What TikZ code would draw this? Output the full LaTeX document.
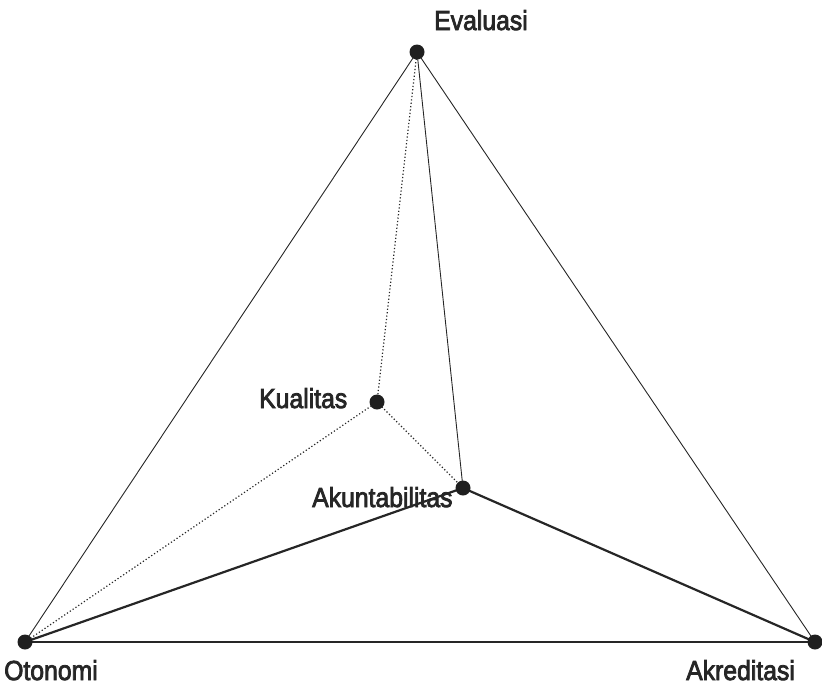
\documentclass[tikz,border=0pt]{standalone}
\usepackage{fontspec}
\usepackage{graphicx}
\setmainfont{Liberation Sans}
\newfontfamily\lblfont[FakeBold=3]{Liberation Sans}
\newcommand{\lbltext}[1]{\scalebox{0.9}[1]{#1}}
\begin{document}
\begin{tikzpicture}[x=1pt,y=-1pt,
  ink/.style={color=black!85},
  thinline/.style={ink, line width=0.9pt},
  dotline/.style={ink, line width=1.2pt, dash pattern=on 1.2pt off 2.2pt},
  thickline/.style={ink, line width=2.2pt},
  baseline2/.style={ink, line width=1.5pt},
  dot/.style={circle, fill=black!88, inner sep=0pt, minimum size=15pt},
  lbl/.style={anchor=base west, inner sep=0pt, text=black!85, font=\lblfont\fontsize{27.5}{30}\selectfont}]
\useasboundingbox (0,0) rectangle (822,689);
\coordinate (E) at (417,52);
\coordinate (K) at (377,402);
\coordinate (A) at (463,488);
\coordinate (O) at (25,642);
\coordinate (R) at (815,642);
% edges
\draw[thinline] (E) -- (O);
\draw[thinline] (E) -- (R);
\draw[thinline] (E) -- (A);
\draw[dotline] (E) -- (K);
\draw[dotline] (K) -- (O);
\draw[dotline] (K) -- (A);
\draw[thickline] (A) -- (O);
\draw[thickline] (A) -- (R);
\draw[baseline2] (O) -- (R);
% dots
\node[dot] (e) at (E) {};
\node[dot] (k) at (K) {};
\node[dot] (a) at (A) {};
\node[dot] (o) at (O) {};
\node[dot] (r) at (R) {};
% labels
\node[lbl] (le) at (434,30) {\lbltext{Evaluasi}};
\node[lbl] (lk) at (259,408) {\lbltext{Kualitas}};
\node[lbl] (la) at (312,507) {\lbltext{Akuntabilitas}};
\node[lbl] (lo) at (4,680) {\lbltext{Otonomi}};
\node[lbl] (lr) at (686,680) {\lbltext{Akreditasi}};
\end{tikzpicture}
\end{document}
